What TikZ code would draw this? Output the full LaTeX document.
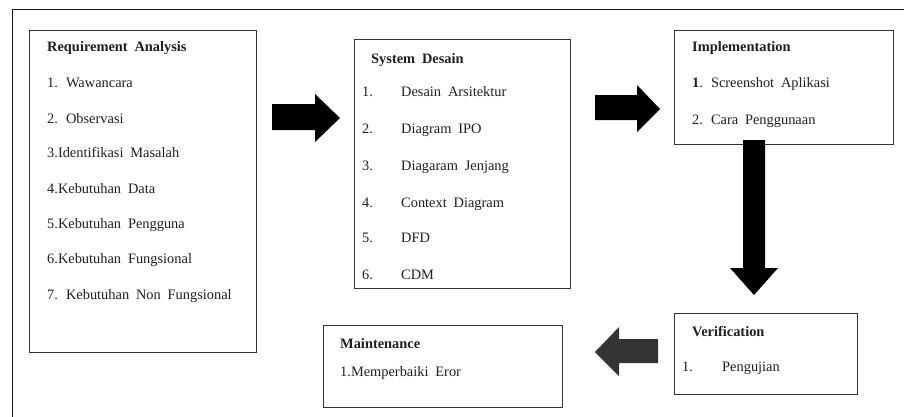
\documentclass[tikz,border=0pt]{standalone}
\usepackage{fontspec}
\setmainfont{Liberation Serif}[WordSpace=1.9]
\begin{document}
\begin{tikzpicture}[x=1pt,y=-1pt,
  box/.style={draw=black!80,line width=1.3pt,anchor=north west,inner sep=0pt},
  txt/.style={anchor=base west,inner sep=0pt,text=black!88,font=\fontsize{14.4}{16}\selectfont},
  ttl/.style={txt,font=\fontsize{14.4}{16}\selectfont\bfseries},
  blk/.style={fill=black},
  frame/.style={draw=black!90,line width=1.8pt}]
\useasboundingbox (0,0) rectangle (904,416);
\clip (0,0) rectangle (904,416);

% outer frame
\draw[frame] (12.5,430) -- (12.5,9.5) -- (920,9.5);

% boxes
\node[box,minimum width=227pt,minimum height=322pt] (req)  at (29,30)  {};
\node[box,minimum width=216pt,minimum height=249pt] (sys)  at (354,39) {};
\node[box,minimum width=219pt,minimum height=114pt] (impl) at (674,30) {};
\node[box,minimum width=183pt,minimum height=81pt]  (ver)  at (674,313) {};
\node[box,minimum width=239pt,minimum height=82pt]  (mnt)  at (323,325) {};

% Requirement Analysis
\node[ttl] (r0) at (47,51.5) {Requirement Analysis};
\node[txt] (r1) at (47,87.5)  {1. Wawancara};
\node[txt] (r2) at (47,123.5) {2. Observasi};
\node[txt] (r3) at (47,157.5) {3.Identifikasi Masalah};
\node[txt] (r4) at (47,193.5) {4.Kebutuhan Data};
\node[txt] (r5) at (47,228.5) {5.Kebutuhan Pengguna};
\node[txt] (r6) at (47,263.5) {6.Kebutuhan Fungsional};
\node[txt] (r7) at (47,299.5) {7. Kebutuhan Non Fungsional};

% System Desain
\node[ttl] (s0) at (371,63) {System Desain};
\foreach \i/\y/\t in {1/96.5/Desain Arsitektur,2/133.5/Diagram IPO,3/170.5/Diagaram Jenjang,
                      4/207.5/Context Diagram,5/242.5/DFD,6/279.5/CDM}{
  \node[txt] (sn\i) at (362,\y) {\i.};
  \node[txt] (st\i) at (401,\y) {\t};
}

% Implementation
\node[ttl] (i0) at (692,51.5) {Implementation};
\node[txt] (i1) at (692,87.5)  {\textbf{1}. Screenshot Aplikasi};
\node[txt] (i2) at (692,124.5) {2. Cara Penggunaan};

% Verification
\node[ttl] (v0) at (692,336.5) {Verification};
\node[txt] (vn1) at (682,371.5) {1.};
\node[txt] (vt1) at (722,371.5) {Pengujian};

% Maintenance
\node[ttl] (m0) at (340,348.5) {Maintenance};
\node[txt] (m1) at (340,376.5) {1.Memperbaiki Eror};

% block arrows between the stages
\fill[blk] (272,104) -- (315,104) -- (315,94) -- (340,118) -- (315,142) -- (315,130) -- (272,130) -- cycle;
\fill[blk] (595,95) -- (637,95) -- (637,85) -- (660,109) -- (637,132) -- (637,120) -- (595,120) -- cycle;
\fill[blk] (743,140) -- (765,140) -- (765,268) -- (778,268) -- (754,295) -- (730,268) -- (743,268) -- cycle;
\fill[black!80] (658,339) -- (619,339) -- (619,327) -- (595,352) -- (619,376) -- (619,363) -- (658,363) -- cycle;
\end{tikzpicture}
\end{document}
